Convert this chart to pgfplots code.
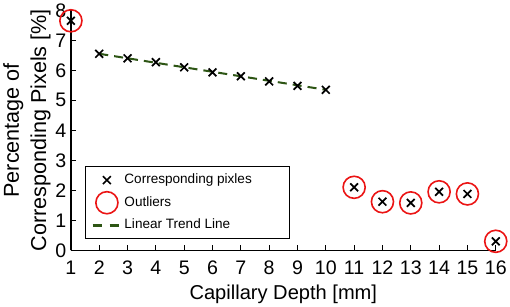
\documentclass[border=0pt]{standalone}
\usepackage{pgfplots}
\pgfplotsset{compat=1.18}
\usepackage{fontspec}
\setmainfont{Liberation Sans}
\definecolor{cred}{RGB}{235,20,20}
\definecolor{cgreen}{RGB}{45,85,20}
\newcommand{\legpad}{\rule{0pt}{0pt}\hspace*{29pt}\rule{0pt}{0pt}}
\begin{document}
\begin{tikzpicture}
\begin{axis}[
  scale only axis,
  width=423pt, height=239pt,
  xmin=1, xmax=16, ymin=0, ymax=8,
  xtick={1,...,16}, ytick={0,...,8},
  axis lines=left,
  axis line style={-, line width=1.2pt},
  tick align=inside,
  major tick length=5pt,
  tick style={line width=1pt, black},
  clip=false,
  /pgf/number format/assume math mode=true,
  tick label style={font=\fontsize{19.5}{22}\selectfont},
  xticklabel style={yshift=-7pt},
  yticklabel style={xshift=-1pt},
  xlabel={Capillary Depth [mm]},
  ylabel={Percentage of\\Corresponding Pixels [\%]},
  xlabel style={font=\fontsize{20}{23}\selectfont, yshift=-3pt},
  ylabel style={font=\fontsize{21.5}{27}\selectfont, align=center, yshift=-2pt},
  legend style={at={(0.033,0.046)}, anchor=south west, draw=black, line width=0.8pt,
    font=\fontsize{13.5}{16}\selectfont, row sep=3pt, inner xsep=6pt, inner ysep=5pt,
    nodes={text height=10pt, text depth=3pt}},
  legend cell align=left,
]
\addplot[only marks, mark=x, mark size=5.5pt, line width=1.7pt, black,
  legend image code/.code={\draw[mark=x, mark size=5.5pt, line width=1.7pt, black] plot coordinates {(0.45cm,0)};}]
  coordinates {(1,7.65)(2,6.55)(3,6.4)(4,6.27)(5,6.1)(6,5.93)(7,5.8)(8,5.63)(9,5.48)(10,5.35)
  (11,2.1)(12,1.62)(13,1.58)(14,1.95)(15,1.88)(16,0.3)};
\addlegendentry{Corresponding pixles\legpad}
\addplot[only marks, mark=o, mark size=11pt, line width=1.6pt, cred,
  legend image code/.code={\draw[mark=o, mark size=11pt, line width=1.6pt, cred] plot coordinates {(0.45cm,0)};}]
  coordinates {(1,7.65)(11,2.1)(12,1.62)(13,1.58)(14,1.95)(15,1.88)(16,0.3)};
\addlegendentry{Outliers}
\addplot[cgreen, line width=2pt, dash pattern=on 9pt off 6pt,
  legend image code/.code={\draw[cgreen, line width=2.5pt, dash pattern=on 9pt off 8pt] (-0.05cm,0)--(0.95cm,0);}]
  coordinates {(2,6.55)(10,5.35)};
\addlegendentry{Linear Trend Line}
\end{axis}
\end{tikzpicture}
\end{document}
